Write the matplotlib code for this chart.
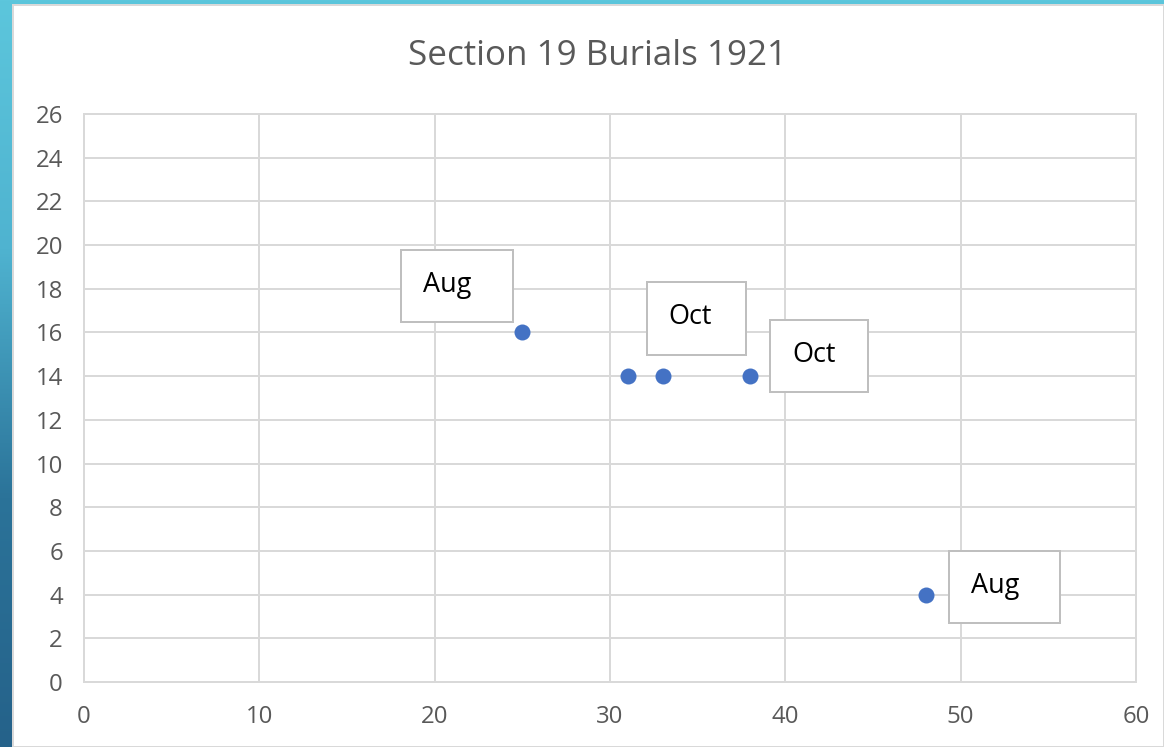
import numpy as np
import matplotlib
matplotlib.use("Agg")
import matplotlib.pyplot as plt
from matplotlib.patches import Rectangle
from matplotlib.offsetbox import DrawingArea, AnnotationBbox
from matplotlib.text import Text
from matplotlib.colors import LinearSegmentedColormap

# ---- data ----
title = "Section 19 Burials 1921"
x_vals = [25, 31, 33, 38, 48]
y_vals = [16, 14, 14, 14, 4]
labels = ["Aug", None, "Oct", "Oct", "Aug"]
x_ticks = [0, 10, 20, 30, 40, 50, 60]
y_ticks = list(range(0, 27, 2))

# label box placement (offset in px from point to box lower-left, box size)
label_layout = {
    0: dict(dx=-121, dy=10, w=112, h=72),
    2: dict(dx=-16, dy=21, w=99, h=73),
    3: dict(dx=20, dy=-16, w=98, h=72),
    4: dict(dx=23, dy=-28, w=111, h=72),
}

W, H = 1164, 747
DPI = 72
fig = plt.figure(figsize=(W / DPI, H / DPI), dpi=DPI)

# background frame: blue gradient strip left/top, white card
bg = fig.add_axes([0, 0, 1, 1], zorder=-10)
grad = np.linspace(0, 1, 256).reshape(-1, 1)
cmap = LinearSegmentedColormap.from_list("b", ["#5CC6DC", "#4FB3D0", "#2B7399", "#25628A"])
bg.imshow(grad, aspect="auto", cmap=cmap, extent=[0, W, H, 0])
bg.add_patch(Rectangle((13, 5), W - 13, H - 5, facecolor="white", edgecolor="#d9d9d9", lw=2))
bg.set_xlim(0, W)
bg.set_ylim(H, 0)
bg.axis("off")

ax = fig.add_axes([84 / W, (H - 682) / H, (1136 - 84) / W, (682 - 114) / H])
ax.set_xlim(0, 60)
ax.set_ylim(0, 26)
ax.set_facecolor("none")
ax.set_xticks(x_ticks)
ax.set_yticks(y_ticks)
ax.grid(True, color="#d9d9d9", lw=2)
ax.set_axisbelow(True)
for s in ax.spines.values():
    s.set_color("#d9d9d9")
    s.set_linewidth(2)
ax.tick_params(length=0, labelsize=24, labelcolor="#595959")
ax.tick_params(axis="x", pad=23)
ax.tick_params(axis="y", pad=21)
for t in ax.get_xticklabels() + ax.get_yticklabels():
    t.set_fontfamily("Open Sans")

ax.scatter(x_vals, y_vals, s=16 ** 2, color="#4472C4", zorder=3, linewidths=0)

for i, lab in enumerate(labels):
    if lab is None:
        continue
    L = label_layout[i]
    da = DrawingArea(L["w"], L["h"], 0, 0, clip=False)
    da.add_artist(Rectangle((0, 0), L["w"], L["h"], facecolor="white", edgecolor="#bfbfbf", lw=2))
    da.add_artist(Text(22, L["h"] - 42, lab, ha="left", va="baseline", fontsize=27,
                       family="Open Sans", color="#000000"))
    ab = AnnotationBbox(da, (x_vals[i], y_vals[i]), xybox=(L["dx"], L["dy"]),
                        xycoords="data", boxcoords="offset points",
                        box_alignment=(0, 0), frameon=False, pad=0)
    ab.set_zorder(4)
    ax.add_artist(ab)

fig.text(597 / W, 1 - 65 / H, title, ha="center", va="baseline", fontsize=35,
         family="Open Sans", color="#595959")

fig.savefig("out.png", dpi=DPI)
